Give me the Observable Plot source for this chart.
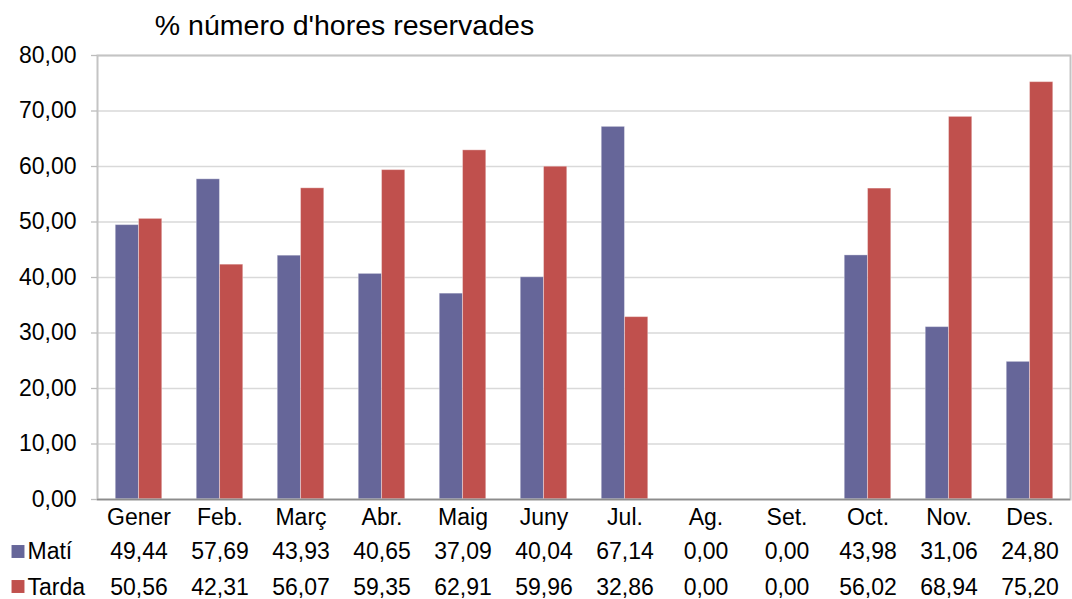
<!DOCTYPE html>
<html>
<head>
<meta charset="utf-8">
<script src="https://cdn.jsdelivr.net/npm/d3@7"></script>
<script src="https://cdn.jsdelivr.net/npm/@observablehq/plot@0.6"></script>
<style>
  html, body { margin: 0; padding: 0; background: #fff; }
  svg { display: block; font-family: "Liberation Sans", Arial, sans-serif; }
</style>
</head>
<body>
<div id="chart"></div>
<script>
const title = "% número d'hores reservades";
const months = ["Gener", "Feb.", "Març", "Abr.", "Maig", "Juny", "Jul.", "Ag.", "Set.", "Oct.", "Nov.", "Des."];
const series = ["Matí", "Tarda"];
const mati  = [49.44, 57.69, 43.93, 40.65, 37.09, 40.04, 67.14, 0.00, 0.00, 43.98, 31.06, 24.80];
const tarda = [50.56, 42.31, 56.07, 59.35, 62.91, 59.96, 32.86, 0.00, 0.00, 56.02, 68.94, 75.20];
const yTicks = [0, 10, 20, 30, 40, 50, 60, 70, 80];
const colors = ["#666699", "#C0504D"];

const fmt = v => d3.format(".2f")(v).replace(".", ",");
const rows = months.map((m, i) => ({month: m, mati: mati[i], tarda: tarda[i]}));

const W = 1072, H = 599, ml = 97, mr = 2, mt = 55, mb = 100;
const bw = (W - ml - mr) / months.length;
const barW = 23.3;
const fs = 23;

const plot = Plot.plot({
  width: W, height: H,
  marginLeft: ml, marginRight: mr, marginTop: mt, marginBottom: mb,
  style: {fontFamily: "'Liberation Sans', Arial, sans-serif", color: "#000", background: "#fff"},
  x: {domain: months, padding: 0, axis: null},
  y: {domain: [0, 80], axis: null},
  marks: [
    Plot.gridY(yTicks, {stroke: "#d9d9d9", strokeOpacity: 1, strokeWidth: 1.3}),
    Plot.barY(rows, {x: "month", y: "mati", fill: colors[0], stroke: "#ffffff", strokeOpacity: 0.35, strokeWidth: 1,
      insetLeft: bw / 2 - barW, insetRight: bw / 2}),
    Plot.barY(rows, {x: "month", y: "tarda", fill: colors[1], stroke: "#ffffff", strokeOpacity: 0.35, strokeWidth: 1,
      insetLeft: bw / 2, insetRight: bw / 2 - barW}),
    Plot.frame({stroke: "#c4c4c4", strokeWidth: 2}),
    Plot.axisY(yTicks, {tickSize: 6, tickPadding: 15, stroke: "#bdbdbd", strokeWidth: 1.3,
      tickFormat: fmt, fontSize: fs, fill: "#000"}),
    Plot.ruleY([0], {stroke: "#8c8c8c", strokeWidth: 1.5}),
    // category labels
    Plot.text(months, {x: d => d, frameAnchor: "bottom", dy: 18, lineAnchor: "middle", fontSize: fs, fill: "#000"}),
    // table values
    Plot.text(rows, {x: "month", text: d => fmt(d.mati), frameAnchor: "bottom", dy: 52, lineAnchor: "middle", fontSize: fs, fill: "#000"}),
    Plot.text(rows, {x: "month", text: d => fmt(d.tarda), frameAnchor: "bottom", dy: 88, lineAnchor: "middle", fontSize: fs, fill: "#000"}),
    // legend keys
    Plot.dot([series[0]], {frameAnchor: "bottom-left", dx: 17.5 - ml, dy: 52, symbol: "square", r: 7.3, fill: colors[0], stroke: null}),
    Plot.dot([series[1]], {frameAnchor: "bottom-left", dx: 17.5 - ml, dy: 87, symbol: "square", r: 7.3, fill: colors[1], stroke: null}),
    Plot.text([series[0]], {frameAnchor: "bottom-left", dx: 27 - ml, dy: 52, text: d => d, textAnchor: "start", lineAnchor: "middle", fontSize: fs, fill: "#000"}),
    Plot.text([series[1]], {frameAnchor: "bottom-left", dx: 27 - ml, dy: 88, text: d => d, textAnchor: "start", lineAnchor: "middle", fontSize: fs, fill: "#000"}),
    // title
    Plot.text([title], {frameAnchor: "top-left", dx: 344 - ml, dy: -30, text: d => d, textAnchor: "middle", lineAnchor: "middle", fontSize: 28.5, fill: "#000"})
  ]
});
document.getElementById("chart").append(plot);
</script>
</body>
</html>
